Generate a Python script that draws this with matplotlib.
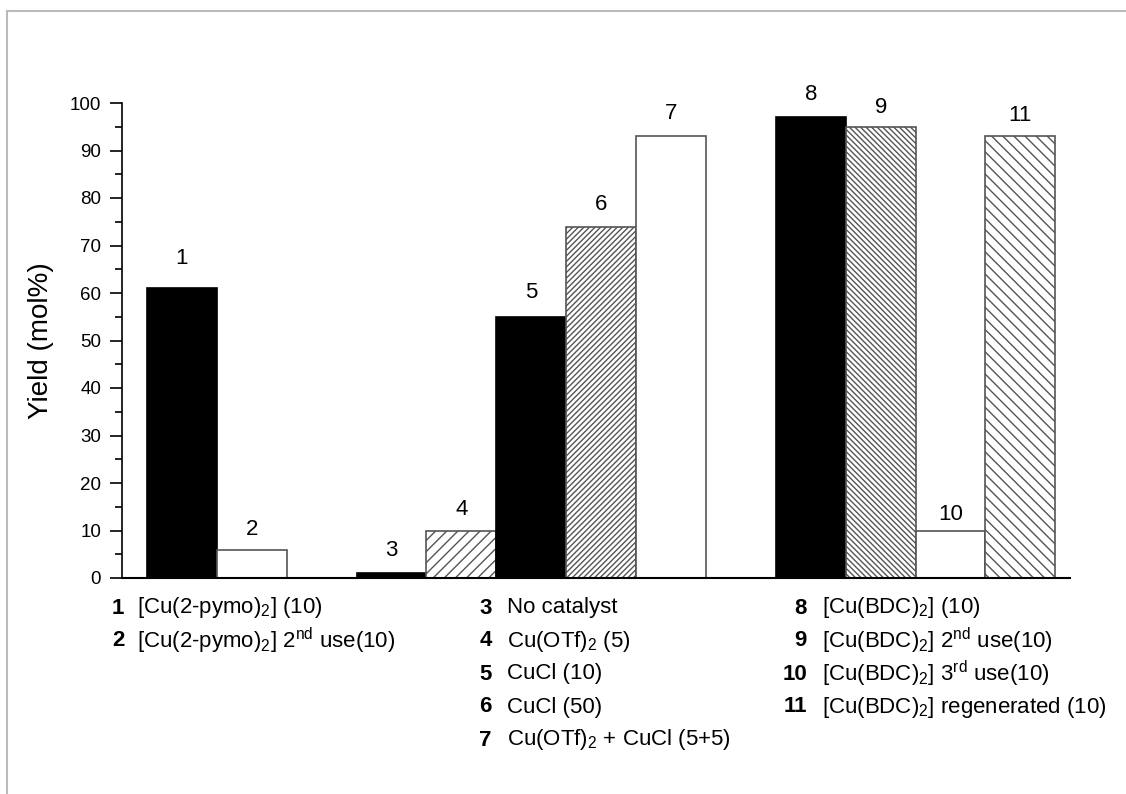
import matplotlib
matplotlib.use("Agg")
import matplotlib.pyplot as plt
from matplotlib.lines import Line2D

plt.rcParams['font.family'] = ['Liberation Sans', 'DejaVu Sans']
plt.rcParams['mathtext.fontset'] = 'custom'
plt.rcParams['mathtext.rm'] = 'Liberation Sans'
plt.rcParams['mathtext.it'] = 'Liberation Sans:italic'
plt.rcParams['mathtext.bf'] = 'Liberation Sans:bold'
plt.rcParams['hatch.linewidth'] = 1.0

# ---- data ----
bar_ids = ['1', '2', '3', '4', '5', '6', '7', '8', '9', '10', '11']
yields = [61, 6, 1, 10, 55, 74, 93, 97, 95, 10, 93]
slots = [0, 1, 3, 4, 5, 6, 7, 9, 10, 11, 12]
fills = ['black', 'white', 'black', 'white', 'black', 'white', 'white',
         'black', 'white', 'white', 'white']
hatches = [None, None, None, '///', None, '//////', None,
           None, '\\\\\\\\\\\\', None, '\\\\\\']
label_gap = [4.0, 2.0, 2.5, 2.2, 2.8, 2.5, 2.5, 2.6, 1.8, 1.2, 2.2]

legend_col1 = [('1', r'[Cu(2-pymo)$_2$] (10)'),
               ('2', r'[Cu(2-pymo)$_2$] 2$^{\mathrm{nd}}$ use(10)')]
legend_col2 = [('3', 'No catalyst'),
               ('4', r'Cu(OTf)$_2$ (5)'),
               ('5', 'CuCl (10)'),
               ('6', 'CuCl (50)'),
               ('7', r'Cu(OTf)$_2$ + CuCl (5+5)')]
legend_col3 = [('8', r'[Cu(BDC)$_2$] (10)'),
               ('9', r'[Cu(BDC)$_2$] 2$^{\mathrm{nd}}$ use(10)'),
               ('10', r'[Cu(BDC)$_2$] 3$^{\mathrm{rd}}$ use(10)'),
               ('11', r'[Cu(BDC)$_2$] regenerated (10)')]

W, H = 1126, 794
fig = plt.figure(figsize=(W / 100, H / 100), dpi=100)
fig.patch.set_facecolor('white')

# thin gray frame lines (top and left)
fig.add_artist(Line2D([7 / W, 1], [1 - 11 / H, 1 - 11 / H], color='#bbbbbb', lw=1.5))
fig.add_artist(Line2D([7 / W, 7 / W], [0, 1 - 11 / H], color='#bbbbbb', lw=1.5))

left, right = 122 / W, 1070 / W
bottom, top = 1 - 578 / H, 1 - 103 / H
ax = fig.add_axes([left, bottom, right - left, top - bottom])

for s, v, f, h, lab, g in zip(slots, yields, fills, hatches, bar_ids, label_gap):
    ec = 'black' if f == 'black' else '#555555'
    ax.bar(s, v, width=1.0, color=f, edgecolor=ec, linewidth=1.2,
           hatch=h, zorder=2)
    ax.text(s, v + g, lab, ha='center', va='bottom', fontsize=16)

ax.set_xlim(-0.857, 12.71)
ax.set_ylim(0, 100)
ax.set_yticks(range(0, 101, 10))
ax.set_yticks(range(5, 100, 10), minor=True)
ax.tick_params(axis='y', which='major', length=9, width=1.2, labelsize=13.5,
               direction='out', pad=6)
ax.tick_params(axis='y', which='minor', length=5, width=1.2, direction='out')
ax.set_xticks([])
for sp in ['top', 'right']:
    ax.spines[sp].set_visible(False)
ax.spines['left'].set_linewidth(1.2)
ax.spines['bottom'].set_linewidth(1.5)
ax.set_ylabel('Yield (mol%)', fontsize=20)
ax.yaxis.set_label_coords(-0.072, 0.5)

# legend text below the axes
row0, dy = 608, 33
fs = 16
for i, (n, t) in enumerate(legend_col1):
    y = 1 - (row0 + i * dy) / H
    fig.text(112 / W, y, n, ha='left', va='center', fontsize=fs, fontweight='bold')
    fig.text(137 / W, y, t, ha='left', va='center', fontsize=fs)
for i, (n, t) in enumerate(legend_col2):
    y = 1 - (row0 + i * dy) / H
    fig.text(492 / W, y, n, ha='right', va='center', fontsize=fs, fontweight='bold')
    fig.text(507 / W, y, t, ha='left', va='center', fontsize=fs)
for i, (n, t) in enumerate(legend_col3):
    y = 1 - (row0 + i * dy) / H
    fig.text(807 / W, y, n, ha='right', va='center', fontsize=fs, fontweight='bold')
    fig.text(822 / W, y, t, ha='left', va='center', fontsize=fs)

fig.savefig('out.png', dpi=100, facecolor='white')
